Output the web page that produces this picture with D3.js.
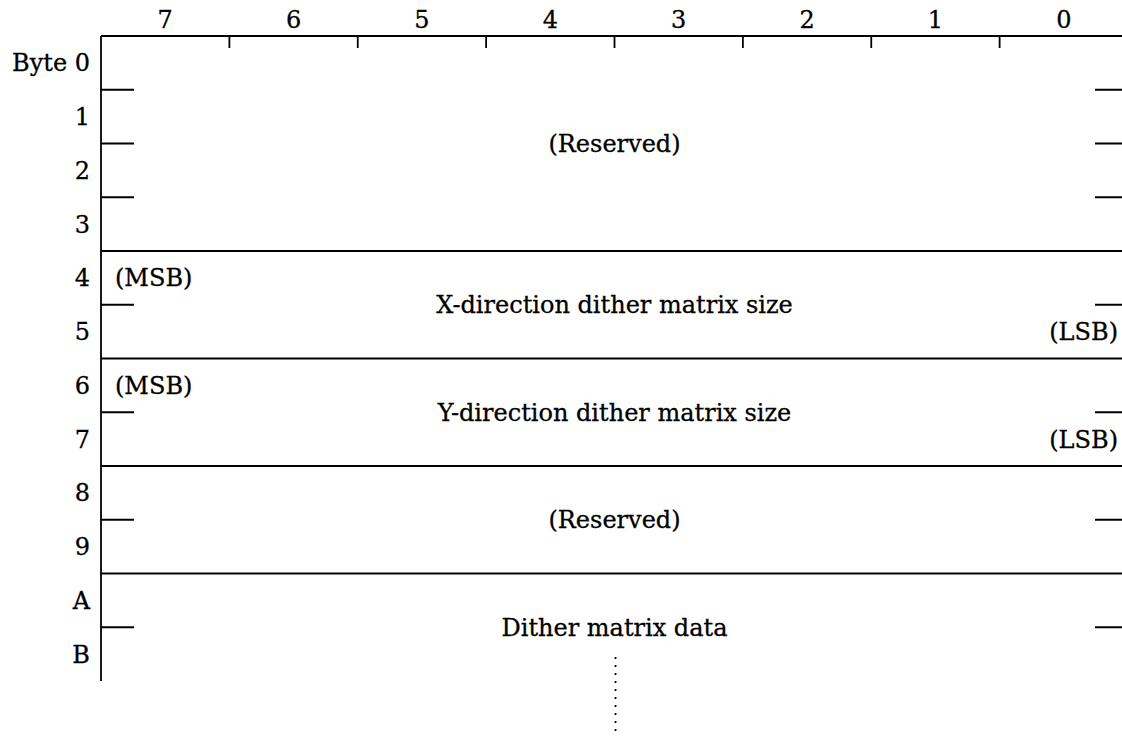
<!DOCTYPE html>
<html>
<head>
<meta charset="utf-8">
<script src="https://cdn.jsdelivr.net/npm/d3@7"></script>
<style>
  body { margin: 0; background: #fff; }
  text { font-family: "DejaVu Serif", "Liberation Serif", serif; font-size: 24px; fill: #000; stroke: #000; stroke-width: 0.3px; }
</style>
</head>
<body>
<svg width="1122" height="738"></svg>
<script>
var width = 1122;
var height = 738;

// bit numbers across the top, byte numbers down the side
var bits = [7, 6, 5, 4, 3, 2, 1, 0];
var bytes = ['Byte 0', '1', '2', '3', '4', '5', '6', '7', '8', '9', 'A', 'B'];

// fields: first byte, last byte, label, msb/lsb markers
var fieldNames = ['(Reserved)', 'X-direction dither matrix size', 'Y-direction dither matrix size', '(Reserved)', 'Dither matrix data'];
var fieldStart = [0, 4, 6, 8, 10];
var fieldEnd = [3, 5, 7, 9, 11];
var fieldMsbLsb = [false, true, true, false, false];
var fieldOpen = [false, false, false, false, true];

var x = d3.scaleLinear().domain([8, 0]).range([101, 1128]);
var y = d3.scaleLinear().domain([0, bytes.length]).range([36, 681]);

var svg = d3.select('svg')
    .attr('width', width)
    .attr('height', height);

var lineStyle = function(sel) {
    sel.attr('stroke', '#000').attr('stroke-width', 1.8).attr('fill', 'none');
};

// top rule and bit ticks
svg.append('line')
    .attr('x1', x(8)).attr('x2', x(0))
    .attr('y1', y(0)).attr('y2', y(0))
    .call(lineStyle);

svg.selectAll('.bit-tick')
    .data(d3.range(1, 8))
    .enter()
    .append('line')
        .classed('bit-tick', true)
        .attr('x1', d => x(d)).attr('x2', d => x(d))
        .attr('y1', y(0)).attr('y2', y(0) + 12)
        .call(lineStyle);

svg.selectAll('.bit-label')
    .data(bits)
    .enter()
    .append('text')
        .classed('bit-label', true)
        .attr('x', d => x(d + 0.5))
        .attr('y', y(0) - 16)
        .attr('dy', '0.35em')
        .attr('text-anchor', 'middle')
        .text(d => d);

// left rule
svg.append('line')
    .attr('x1', x(8)).attr('x2', x(8))
    .attr('y1', y(0)).attr('y2', y(bytes.length))
    .call(lineStyle);

svg.selectAll('.byte-label')
    .data(bytes)
    .enter()
    .append('text')
        .classed('byte-label', true)
        .attr('x', x(8) - 11)
        .attr('y', (d, i) => y(i + 0.5))
        .attr('dy', '0.35em')
        .attr('text-anchor', 'end')
        .text(d => d);

// byte boundaries: full line between fields, short marks inside a field
var boundaries = [];
for (let i = 1; i < bytes.length; i++) {
    let full = fieldEnd.indexOf(i - 1) !== -1;
    boundaries.push({ row: i, full: full });
}

svg.selectAll('.full-rule')
    .data(boundaries.filter(d => d.full))
    .enter()
    .append('line')
        .classed('full-rule', true)
        .attr('x1', x(8)).attr('x2', x(0))
        .attr('y1', d => y(d.row)).attr('y2', d => y(d.row))
        .call(lineStyle);

var shortMarks = boundaries.filter(d => !d.full);
svg.selectAll('.short-left')
    .data(shortMarks)
    .enter()
    .append('line')
        .attr('x1', x(8)).attr('x2', x(8) + 33)
        .attr('y1', d => y(d.row)).attr('y2', d => y(d.row))
        .call(lineStyle);

svg.selectAll('.short-right')
    .data(shortMarks)
    .enter()
    .append('line')
        .attr('x1', x(0) - 33).attr('x2', x(0))
        .attr('y1', d => y(d.row)).attr('y2', d => y(d.row))
        .call(lineStyle);

// field labels
var fields = fieldNames.map(function(name, i) {
    return { name: name, start: fieldStart[i], end: fieldEnd[i], msb: fieldMsbLsb[i], open: fieldOpen[i] };
});

svg.selectAll('.field-label')
    .data(fields)
    .enter()
    .append('text')
        .classed('field-label', true)
        .attr('x', x(4))
        .attr('y', d => y((d.start + d.end + 1) / 2))
        .attr('dy', '0.35em')
        .attr('text-anchor', 'middle')
        .text(d => d.name);

var msbFields = fields.filter(d => d.msb);
svg.selectAll('.msb')
    .data(msbFields)
    .enter()
    .append('text')
        .attr('x', x(8) + 14)
        .attr('y', d => y(d.start + 0.5))
        .attr('dy', '0.35em')
        .text('(MSB)');

svg.selectAll('.lsb')
    .data(msbFields)
    .enter()
    .append('text')
        .attr('x', 1118)
        .attr('y', d => y(d.end + 0.5))
        .attr('dy', '0.35em')
        .attr('text-anchor', 'end')
        .text('(LSB)');

// open-ended field continues below
svg.selectAll('.continue')
    .data(fields.filter(d => d.open))
    .enter()
    .append('line')
        .attr('x1', x(4) + 1).attr('x2', x(4) + 1)
        .attr('y1', d => y(d.end + 1) - 24).attr('y2', height - 2)
        .attr('stroke', '#000')
        .attr('stroke-width', 1.8)
        .attr('stroke-dasharray', '2,6');
</script>
</body>
</html>
